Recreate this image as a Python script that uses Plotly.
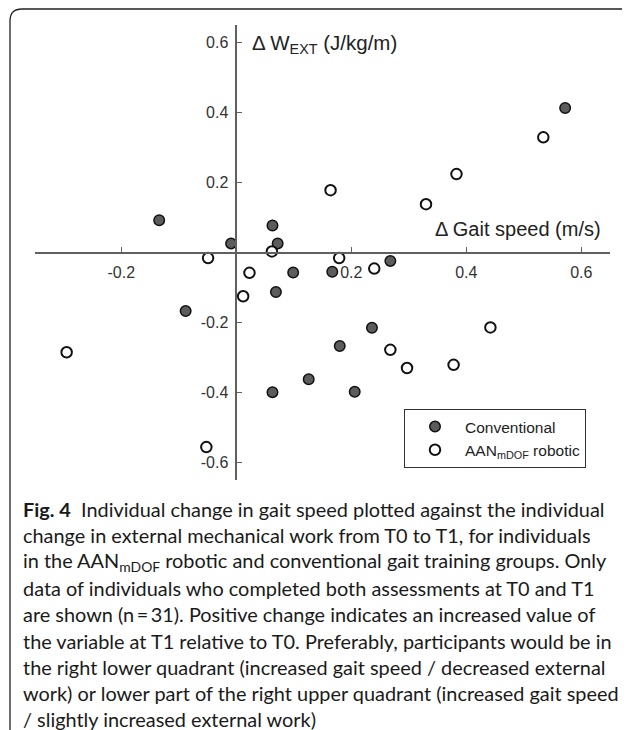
import plotly.graph_objects as go

# Data
conv_x = [0.572, -0.134, 0.063, -0.009, 0.072, 0.268, 0.099, 0.167, 0.069, -0.088, 0.236, 0.180, 0.126, 0.063, 0.206]
conv_y = [0.413, 0.092, 0.077, 0.026, 0.026, -0.024, -0.057, -0.055, -0.113, -0.167, -0.215, -0.267, -0.362, -0.399, -0.398]
rob_x = [0.534, 0.383, 0.164, 0.330, 0.062, -0.049, 0.179, 0.023, 0.240, 0.012, 0.442, -0.295, 0.268, 0.297, 0.378, -0.052]
rob_y = [0.329, 0.224, 0.178, 0.138, 0.003, -0.016, -0.016, -0.058, -0.046, -0.125, -0.214, -0.285, -0.278, -0.330, -0.321, -0.556]

x_ticks = [-0.2, 0.2, 0.4, 0.6]
x_tick_labels = ["-0.2", "0.2", "0.4", "0.6"]
y_ticks = [0.6, 0.4, 0.2, -0.2, -0.4, -0.6]
y_tick_labels = ["0.6", "0.4", "0.2", "-0.2", "-0.4", "-0.6"]

series_names = ["Conventional", "AAN<sub>mDOF</sub> robotic"]
x_title = "\u0394 Gait speed (m/s)"
y_title = "\u0394 W<sub>EXT</sub> (J/kg/m)"

caption_lines = [
    "<b>Fig. 4</b>  Individual change in gait speed plotted against the individual",
    "change in external mechanical work from T0 to T1, for individuals",
    "in the AAN<sub>mDOF</sub> robotic and conventional gait training groups. Only",
    "data of individuals who completed both assessments at T0 and T1",
    "are shown (n\u2009=\u200931). Positive change indicates an increased value of",
    "the variable at T1 relative to T0. Preferably, participants would be in",
    "the right lower quadrant (increased gait speed / decreased external",
    "work) or lower part of the right upper quadrant (increased gait speed",
    "/ slightly increased external work)",
]

# The page adds an 8px body margin; work in window pixels and shift.
OFF = 8
W, H = 630 - OFF, 730 - OFF
L, R, T, B = 35 - OFF, 610 - OFF, 25 - OFF, 480 - OFF


def px(p):
    return (p - OFF - L) / (R - L)


def py(p):
    return (B - (p - OFF)) / (B - T)


AX = "#606060"
FONT = "Liberation Sans"

fig = go.Figure()
fig.add_trace(go.Scatter(
    x=conv_x, y=conv_y, mode="markers", name=series_names[0],
    marker=dict(size=10.5, color="#5c5c5c", line=dict(color="#111111", width=1.5)),
))
fig.add_trace(go.Scatter(
    x=rob_x, y=rob_y, mode="markers", name=series_names[1],
    marker=dict(size=10.5, color="white", line=dict(color="#111111", width=2)),
))

annotations = [
    dict(text=y_title, x=px(250), y=py(44), xref="paper", yref="paper",
         xanchor="left", yanchor="middle", showarrow=False,
         font=dict(family=FONT, size=20.5, color="#222")),
    dict(text=x_title, x=px(603), y=py(229), xref="paper", yref="paper",
         xanchor="right", yanchor="middle", showarrow=False,
         font=dict(family=FONT, size=20, color="#222")),
]
y0 = 509
for i, line in enumerate(caption_lines):
    annotations.append(dict(
        text=line, x=px(21), y=py(y0 + i * 26.3), xref="paper", yref="paper",
        xanchor="left", yanchor="middle", showarrow=False,
        font=dict(family="Lato", size=19.9, color="#1a1a1a"),
    ))

# Frame around the figure (rounded corners on the left, right/bottom cut off)
x_l, x_r = px(10), px(650)
y_t, y_b = py(9), py(745)
rx = 12 / (R - L)
ry = 12 / (B - T)
frame_path = (f"M {x_r},{y_t} L {x_l + rx},{y_t} Q {x_l},{y_t} {x_l},{y_t - ry} "
              f"L {x_l},{y_b + ry} Q {x_l},{y_b} {x_l + rx},{y_b} L {x_r},{y_b}")

fig.update_layout(
    width=W, height=H,
    margin=dict(l=L, r=W - R, t=T, b=H - B),
    paper_bgcolor="white", plot_bgcolor="white",
    font=dict(family=FONT, size=16, color="#222"),
    showlegend=True,
    legend=dict(
        x=px(404), y=py(409), xanchor="left", yanchor="top",
        bordercolor="#333", borderwidth=1, bgcolor="white",
        itemwidth=50,
        font=dict(family=FONT, size=15.5, color="#222"),
    ),
    xaxis=dict(
        range=[-0.35, 0.65], anchor="free", position=0.5,
        showgrid=False, zeroline=False, showline=True, linecolor=AX, linewidth=1.5,
        ticks="inside", ticklen=5, tickcolor=AX, tickwidth=1.2,
        tickvals=x_ticks, ticktext=x_tick_labels, ticklabelstandoff=6,
        tickfont=dict(size=16, color="#333"),
    ),
    yaxis=dict(
        range=[-0.65, 0.65], anchor="free", position=0.35,
        showgrid=False, zeroline=False, showline=True, linecolor=AX, linewidth=1.5,
        ticks="inside", ticklen=5, tickcolor=AX, tickwidth=1.2,
        tickvals=y_ticks, ticktext=y_tick_labels, ticklabelstandoff=4,
        tickfont=dict(size=16, color="#333"),
    ),
    annotations=annotations,
    shapes=[dict(type="path", path=frame_path, xref="paper", yref="paper",
                 line=dict(color="#222", width=1.3))],
)

fig.write_html("out.html")
